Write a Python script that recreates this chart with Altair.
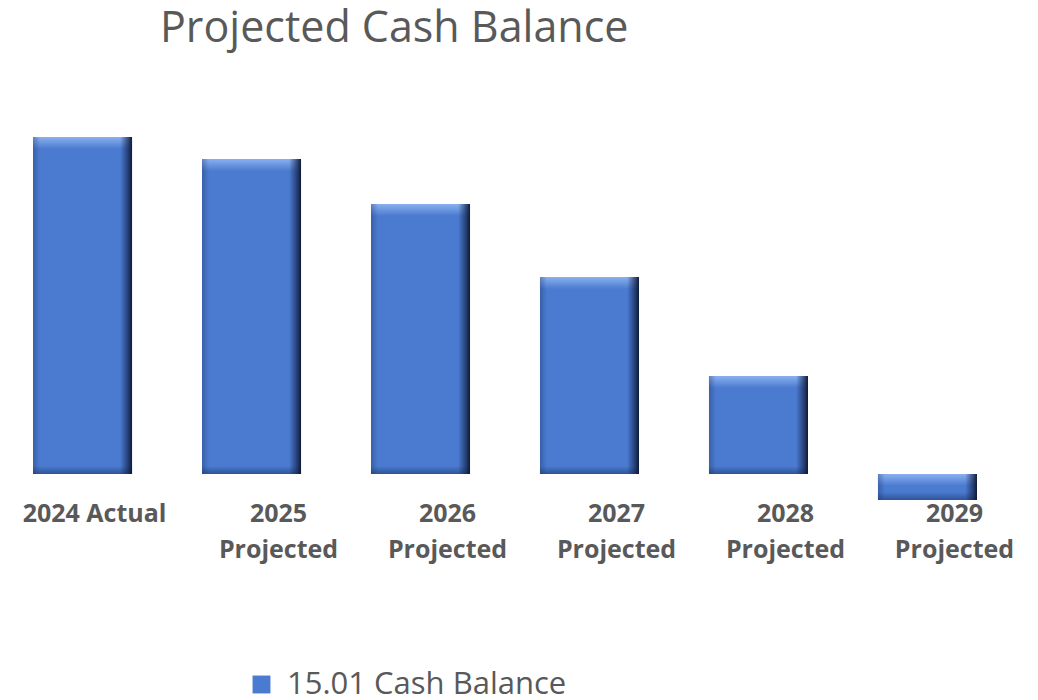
import altair as alt
import pandas as pd

categories = ["2024 Actual", "2025 Projected", "2026 Projected",
              "2027 Projected", "2028 Projected", "2029 Projected"]
values = [337, 315, 270, 197, 98, -26]
series_name = "15.01 Cash Balance"

df = pd.DataFrame({"category": categories, "value": values,
                   "series": [series_name] * len(categories)})

FONT = "Open Sans"
GREY = "#595959"

x_enc = alt.X("category:N", sort=categories,
              scale=alt.Scale(paddingInner=0.414, paddingOuter=0.148),
              axis=alt.Axis(title=None, ticks=False, domain=False,
                            labelAngle=0, labelFont=FONT, labelFontSize=25,
                            labelFontWeight="bold", labelColor=GREY,
                            labelLineHeight=36, labelPadding=27,
                            labelBaseline="top",
                            labelOffset={"condition": {"test": "datum.value == '2024 Actual'", "value": 12},
                                         "value": 27},
                            labelExpr="indexof(datum.label, 'Projected') >= 0 ? split(datum.label, ' ') : datum.label"))
y_scale = alt.Scale(domain=[0, 360], nice=False, zero=True)

base = alt.Chart(df).mark_bar().encode(
    x=x_enc,
    y=alt.Y("value:Q", scale=y_scale, axis=None),
    color=alt.Color("series:N", scale=alt.Scale(range=["#4A7BD0"]),
                    legend=alt.Legend(title=None, orient="none", legendX=238, legendY=555,
                                      symbolType="square", symbolSize=320,
                                      symbolStrokeWidth=0, labelFont=FONT,
                                      labelFontSize=31, labelColor=GREY,
                                      labelOffset=10, labelLimit=0, padding=0)),
)

top_hl = alt.Chart(df).transform_calculate(top="max(datum.value, 0)").mark_tick(
    orient="horizontal", thickness=12, size=99, yOffset=6,
    color=alt.LinearGradient(gradient="linear", x1=0, x2=0, y1=0, y2=1,
                             stops=[alt.GradientStop(offset=0, color="#8AB0F0"),
                                    alt.GradientStop(offset=1, color="#4A7BD0")]),
    opacity=1,
).encode(x=alt.X("category:N", sort=categories), y=alt.Y("top:Q", scale=y_scale))

bot_hl = alt.Chart(df).transform_calculate(bot="min(datum.value, 0)").mark_tick(
    orient="horizontal", thickness=8, size=99, yOffset=-4,
    color=alt.LinearGradient(gradient="linear", x1=0, x2=0, y1=0, y2=1,
                             stops=[alt.GradientStop(offset=0, color="#4A7BD0"),
                                    alt.GradientStop(offset=1, color="#2F5396")]),
    opacity=1,
).encode(x=alt.X("category:N", sort=categories), y=alt.Y("bot:Q", scale=y_scale))

side = alt.Chart(df).mark_bar(
    color=alt.LinearGradient(gradient="linear", x1=0, x2=1, y1=0, y2=0,
                             stops=[alt.GradientStop(offset=0, color="rgba(25,45,95,0.35)"),
                                    alt.GradientStop(offset=0.07, color="rgba(25,45,95,0)"),
                                    alt.GradientStop(offset=0.88, color="rgba(20,35,75,0)"),
                                    alt.GradientStop(offset=0.95, color="rgba(20,35,75,0.6)"),
                                    alt.GradientStop(offset=1, color="rgba(10,20,45,0.95)")]),
).encode(x=alt.X("category:N", sort=categories), y=alt.Y("value:Q", scale=y_scale))

chart = alt.layer(base, top_hl, bot_hl, side).properties(
    width=994, height=360,
    padding=0,
    title=alt.TitleParams("Projected Cash Balance", anchor="start", dx=152,
                          font=FONT, fontSize=43, fontWeight="normal",
                          color=GREY, offset=63),
).configure_view(stroke=None)

chart.save("out.html", embed_options={"renderer": "svg", "actions": False})
